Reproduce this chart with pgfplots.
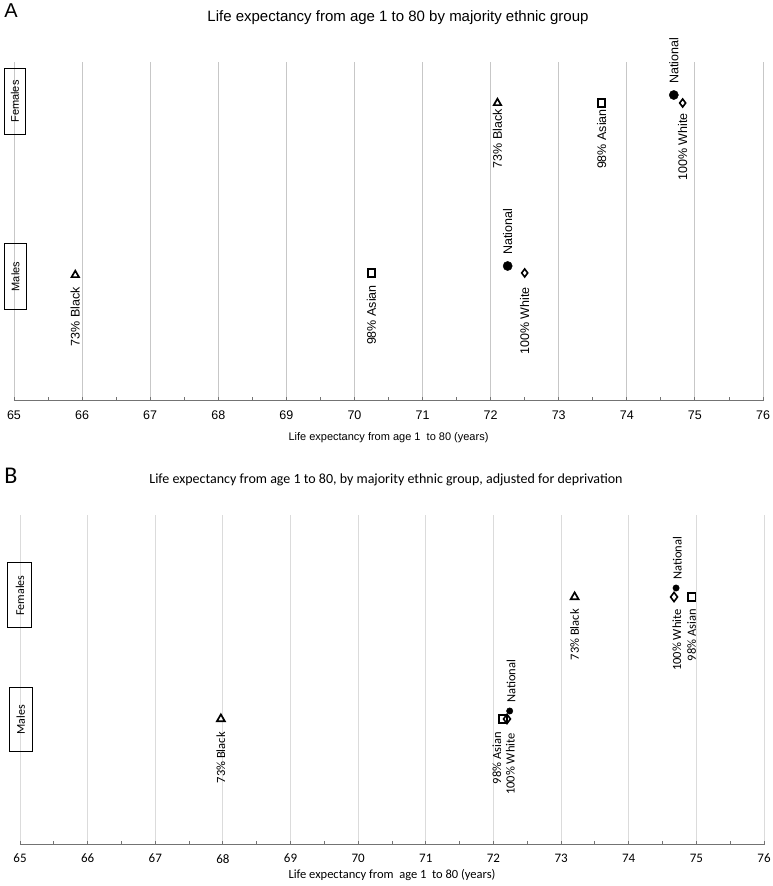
\documentclass[border=0pt]{standalone}
\usepackage{pgfplots}
\pgfplotsset{compat=1.18}
\usepackage{fontspec}
\setmainfont{Liberation Sans}
\newfontfamily\carlito{Carlito}
\tikzset{
  lab/.style={rotate=90, inner sep=0pt},
  box/.style={draw, line width=1pt, rotate=90, inner sep=1pt},
}
\pgfplotsset{
  panel/.style={
    scale only axis, xmin=65, xmax=76, ymin=0,
    axis x line=bottom, axis y line=none,
    xtick={65,66,...,76}, minor xtick={65.5,66.5,...,75.5}, ytick=\empty,
    tick align=inside, major tick length=4pt, minor tick length=4pt,
    xmajorgrids, major grid style={black!22, line width=0.9pt},
    x axis line style={-, black!55, line width=1pt},
    every tick/.style={black!55, line width=0.9pt},
    clip=false,
    /pgf/number format/assume math mode=true,
    xticklabel style={inner sep=0pt, anchor=north},
    xlabel style={at={(axis description cs:0.5,0)}, inner sep=0pt},
  },
}
\begin{document}
\begin{tikzpicture}
\path[use as bounding box] (0,0) rectangle (772pt,886pt);
% ---------- Panel A ----------
\node[font=\fontsize{20}{22}\selectfont, inner sep=0pt] at (11pt,875pt) {A};
\node[font=\fontsize{15}{17}\selectfont, inner sep=0pt] at (398pt,868pt) {Life expectancy from age 1 to 80 by majority ethnic group};
\begin{axis}[panel, at={(14pt,485pt)}, anchor=south west, width=749pt, height=339pt, ymax=339,
  xticklabel shift=10pt,
  xticklabel style={font=\fontsize{12.5}{14}\selectfont},
  xlabel={Life expectancy from age 1\ \ to 80 (years)},
  xlabel style={font=\fontsize{11}{13}\selectfont, anchor=center, yshift=-37pt}]
\addplot[only marks, mark=triangle, mark size=4.3pt, mark options={black, line width=1.7pt}] coordinates {(72.10,298) (65.90,126)};
\addplot[only marks, mark=square, mark size=3.7pt, mark options={black, line width=1.7pt}] coordinates {(73.63,298) (70.25,128)};
\addplot[only marks, mark=*, mark size=4.6pt, mark options={black, fill=black}] coordinates {(74.69,306) (72.25,135)};
\addplot[only marks, mark=diamond, mark size=4pt, mark options={black, line width=1.6pt}] coordinates {(74.82,298) (72.50,128)};
\begin{scope}[font=\fontsize{12.5}{14}\selectfont]
\node[lab, anchor=east] at (axis cs:72.10,292) {73\% Black};
\node[lab, anchor=east] at (axis cs:73.63,292) {98\% Asian};
\node[lab, anchor=east] at (axis cs:74.82,288) {100\% White};
\node[lab, anchor=west] at (axis cs:74.69,317) {National};
\node[lab, anchor=east] at (axis cs:65.90,114) {73\% Black};
\node[lab, anchor=east] at (axis cs:70.25,116) {98\% Asian};
\node[lab, anchor=east] at (axis cs:72.50,114) {100\% White};
\node[lab, anchor=west] at (axis cs:72.25,146) {National};
\end{scope}
\node[box, minimum width=66pt, minimum height=21pt, font=\fontsize{11}{13}\selectfont] at (axis cs:65.015,299.5) {Females};
\node[box, minimum width=66pt, minimum height=22pt, font=\fontsize{11}{13}\selectfont] at (axis cs:65.02,124.5) {Males};
\end{axis}
% ---------- Panel B ----------
\node[font=\carlito\fontsize{24}{26}\selectfont, inner sep=0pt] at (11pt,410pt) {B};
\node[font=\carlito\fontsize{14}{16}\selectfont, inner sep=0pt] at (386pt,406pt) {Life expectancy from age 1 to 80, by majority ethnic group, adjusted for deprivation};
\begin{axis}[panel, at={(20pt,41pt)}, anchor=south west, width=744pt, height=330pt, ymax=330,
  major grid style={black!14, line width=0.9pt},
  xticklabel shift=9pt,
  xticklabel style={font=\carlito\fontsize{13}{15}\selectfont},
  xlabel={Life expectancy from\ \ age 1\ \ to 80 (years)},
  xlabel style={font=\carlito\fontsize{12.5}{14}\selectfont, anchor=center, yshift=-30pt}]
\addplot[only marks, mark=triangle, mark size=4.6pt, mark options={black, line width=1.7pt}] coordinates {(73.20,248) (67.97,126)};
\addplot[only marks, mark=square, mark size=3.8pt, mark options={black, line width=1.7pt}] coordinates {(74.93,248) (72.14,126)};
\addplot[only marks, mark=diamond, mark size=4.6pt, mark options={black, line width=1.6pt}] coordinates {(74.67,248) (72.20,126)};
\addplot[only marks, mark=*, mark size=3.2pt, mark options={black, fill=black}] coordinates {(74.70,257) (72.24,134)};
\begin{scope}[font=\carlito\fontsize{12.5}{14}\selectfont]
\node[lab, anchor=east] at (axis cs:73.20,236) {73\% Black};
\node[lab, anchor=east] at (axis cs:74.71,236) {100\% White};
\node[lab, anchor=east] at (axis cs:74.93,236) {98\% Asian};
\node[lab, anchor=west] at (axis cs:74.72,265) {National};
\node[lab, anchor=east] at (axis cs:67.97,113) {73\% Black};
\node[lab, anchor=east] at (axis cs:72.05,113) {98\% Asian};
\node[lab, anchor=east] at (axis cs:72.25,112) {100\% White};
\node[lab, anchor=west] at (axis cs:72.26,142) {National};
\end{scope}
\node[box, minimum width=65pt, minimum height=24pt, font=\carlito\fontsize{12}{14}\selectfont] at (axis cs:65,249.5) {Females};
\node[box, minimum width=64pt, minimum height=23pt, font=\carlito\fontsize{12}{14}\selectfont] at (axis cs:65.01,125) {Males};
\end{axis}
\end{tikzpicture}
\end{document}
